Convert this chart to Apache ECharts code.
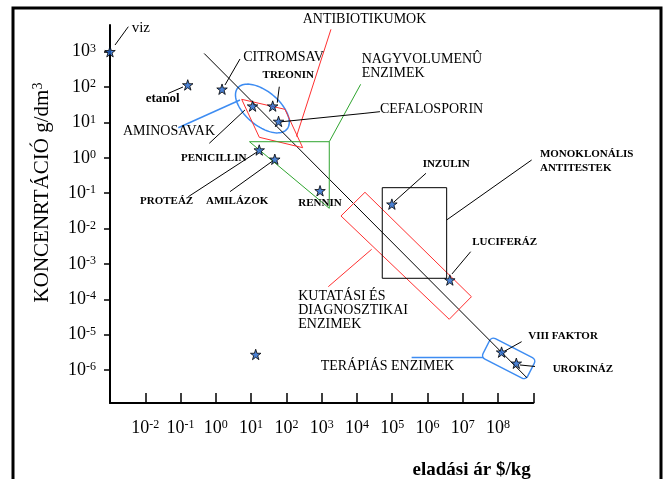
<!DOCTYPE html>
<html><head><meta charset="utf-8">
<script src="https://cdn.jsdelivr.net/npm/echarts@6/dist/echarts.min.js"></script>
<style>html,body{margin:0;padding:0;background:#fff}#c{width:667px;height:479px}</style>
</head><body><div id="c"></div><script>
// ---------------- DATA ----------------
// products: selling price ($/kg) vs. concentration (g/dm3)
const productNames = ['víz','etanol','citromsav','aminosav','treonin','cefalosporin','penicillin','amilázok','rennin','inzulin','luciferáz','VIII faktor','urokináz','(jelöletlen)'];
const pricePerKg   = [0.001, 0.16, 1.5, 11, 41, 60, 17, 47, 900, 98000, 4.3e6, 1.26e8, 3.3e8, 13.5];
const concentration= [1000, 115, 87, 29, 29, 10.7, 1.66, 0.91, 0.117, 0.049, 3.5e-4, 3.2e-6, 1.55e-6, 2.75e-6];

// axis ticks (exponents of 10)
const xTickMarks  = [-2,-1,0,1,2,3,4,5,6,7,8,9];
const xTickLabels = [-2,-1,0,1,2,3,4,5,6,7,8];
const yTickMarks  = [-6,-5,-4,-3,-2,-1,0,1,2,3];
const yTickLabels = [-6,-5,-4,-3,-2,-1,0,1,2,3];
const xAxisTitle = 'eladási ár $/kg';
const yAxisTitle = 'KONCENRTÁCIÓ g/dm';

// annotation geometry, in decades (log10 of price, log10 of concentration)
const trendLine        = [[-0.33,2.95],[8.82,-6.22]];
const antibioticRegion = [[0.733,1.654],[1.960,1.371],[2.462,0.286],[1.232,0.580],[0.733,1.654]];
const antibioticLeader = [[3.264,3.633],[2.286,0.602]];
const bulkEnzymeRegion = [[0.954,0.455],[3.216,0.455],[3.216,-1.428],[0.954,0.455]];
const bulkEnzymeLeader = [[3.216,0.455],[4.106,2.078]];
const aminoEllipseCenter = [1.32,1.394];
const aminoEllipseAxes   = [0.91,0.48];
const aminoEllipseTilt   = 40;
const aminoLeader      = [[-1.065,0.851],[0.685,1.634]];
const researchRegion   = [[4.228,-0.975],[3.548,-1.645],[6.617,-4.566],[7.246,-3.927],[4.228,-0.975]];
const researchLeader   = [[4.418,-2.587],[3.188,-3.644]];
const antibodyRegion   = [[4.718,-0.845],[6.544,-0.845],[6.544,-3.407],[4.718,-3.407],[4.718,-0.845]];
const antibodyLeader   = [[6.544,-1.758],[8.953,-0.062]];
const therapyBoxCenter = [8.302,-5.671];
const therapyBoxSize   = [1.42,0.65];
const therapyBoxTilt   = 27;
const therapyBoxRadius = 0.12;
const therapyLeader    = [[7.578,-5.646],[5.551,-5.646]];
const blackLeaders = [
  [[-2.858,3.189],[-2.481,3.707]],
  [[-1.356,1.818],[-0.931,2.002]],
  [[0.260,2.059],[0.685,2.794]],
  [[1.799,2.010],[1.742,1.558]],
  [[1.790,1.012],[4.228,1.258],[4.653,1.304]],
  [[-0.185,0.410],[0.826,1.352]],
  [[-0.781,-1.100],[1.167,0.164]],
  [[0.401,-0.958],[1.592,-0.104]],
  [[5.957,-0.438],[5.050,-1.249]],
  [[7.224,-2.655],[6.694,-3.285]],
  [[8.669,-5.199],[8.196,-5.462]],
  [[9.565,-5.951],[8.621,-5.858]]
];
// annotation texts, anchors (left, middle) in decades, kind
const annotationTexts = ['ANTIBIOTIKUMOK','CITROMSAV','NAGYVOLUMENÛ\nENZIMEK','TREONIN','CEFALOSPORIN','AMINOSAVAK','PENICILLIN','PROTEÁZ','AMILÁZOK','RENNIN','INZULIN','MONOKLONÁLIS\nANTITESTEK','LUCIFERÁZ','KUTATÁSI ÉS\nDIAGNOSZTIKAI\nENZIMEK','TERÁPIÁS ENZIMEK','VIII FAKTOR','UROKINÁZ','viz','etanol'];
const annotationAnchors = [[2.462,3.916],[0.776,2.842],[4.134,2.576],[1.325,2.341],[4.653,1.380],[-2.632,0.738],[-0.988,-0.005],[-2.150,-1.221],[-0.279,-1.221],[2.337,-1.286],[5.863,-0.175],[9.188,-0.096],[7.269,-2.389],[2.337,-4.317],[2.972,-5.886],[8.857,-5.029],[9.548,-5.979],[-2.385,3.662],[-1.988,1.671]];
const annotationKinds = ['big','big','big','small','big','big','small','small','small','small','small','small','small','big','big','small','small','viz','etanol'];

// ---------------- CHART ----------------
const L = Math.log10;
const FONT = '"Liberation Serif", "Times New Roman", serif';
const RED = '#ff3030', GREEN = '#2fa52f', BLUE = '#3d8cf2';
const STAR = 'path://M50 0L61.8 35.1L97.6 35.1L68.6 56.7L79.4 90.9L50 69.8L20.6 90.9L31.4 56.7L2.4 35.1L38.2 35.1Z';

function lineSeries(pts, color, width) {
  return {type:'line', data: pts, symbol:'none', clip:false, silent:true, animation:false,
    lineStyle:{color:color, width:width||1}, z:2};
}
const richTick = {
  b:{fontSize:18, fontFamily:FONT, color:'#000', lineHeight:18},
  s:{fontSize:12, fontFamily:FONT, color:'#000', lineHeight:12, verticalAlign:'top'}
};
const fmt = v => '{b|10}{s|' + v + '}';

const series = [];
series.push(lineSeries(trendLine, '#000', 1));
series.push(lineSeries(antibioticRegion, RED, 1));
series.push(lineSeries(antibioticLeader, RED, 1));
series.push(lineSeries(bulkEnzymeRegion, GREEN, 1));
series.push(lineSeries(bulkEnzymeLeader, GREEN, 1));
series.push(lineSeries(aminoLeader, BLUE, 1.5));
series.push(lineSeries(researchRegion, RED, 1));
series.push(lineSeries(researchLeader, RED, 1));
series.push(lineSeries(antibodyRegion, '#000', 1));
series.push(lineSeries(antibodyLeader, '#000', 1));
series.push(lineSeries(therapyLeader, BLUE, 1.5));
blackLeaders.forEach(p => series.push(lineSeries(p, '#000', 1)));

series.push({
  type:'custom', clip:false, silent:true, animation:false, z:2,
  data:[[aminoEllipseCenter[0], aminoEllipseCenter[1]]],
  renderItem(params, api) {
    const c = api.coord([api.value(0), api.value(1)]);
    const u = api.size([1,1]);
    const a = aminoEllipseAxes[0]*u[0], b = aminoEllipseAxes[1]*u[1];
    const th = aminoEllipseTilt*Math.PI/180;
    const pts = [];
    for (let i=0;i<96;i++){ const t=i/96*2*Math.PI; const x=a*Math.cos(t), y=b*Math.sin(t);
      pts.push([c[0]+x*Math.cos(th)-y*Math.sin(th), c[1]+x*Math.sin(th)+y*Math.cos(th)]); }
    return {type:'polygon', shape:{points:pts}, style:{fill:'none', stroke:BLUE, lineWidth:1.5}};
  }
});
series.push({
  type:'custom', clip:false, silent:true, animation:false, z:2,
  data:[[therapyBoxCenter[0], therapyBoxCenter[1]]],
  renderItem(params, api) {
    const c = api.coord([api.value(0), api.value(1)]);
    const u = api.size([1,1]);
    const w = therapyBoxSize[0]*u[0], h = therapyBoxSize[1]*u[1];
    return {type:'rect', x:c[0], y:c[1], rotation:-therapyBoxTilt*Math.PI/180,
      shape:{x:-w/2, y:-h/2, width:w, height:h, r:therapyBoxRadius*u[0]},
      style:{fill:'none', stroke:BLUE, lineWidth:1.5}};
  }
});
series.push({
  type:'scatter', clip:false, silent:true, animation:false, z:5,
  symbol:STAR, symbolSize:10.5,
  itemStyle:{color:'#1f63c9', borderColor:'#000', borderWidth:1},
  data: pricePerKg.map((p,i)=>({name:productNames[i], value:[L(p), L(concentration[i])]}))
});
series.push({
  type:'custom', clip:false, silent:true, animation:false, z:6,
  data: annotationAnchors.map((p,i)=>[p[0],p[1],i]),
  renderItem(params, api) {
    const i = api.value(2);
    const c = api.coord([api.value(0), api.value(1)]);
    const k = annotationKinds[i];
    let font, lh;
    if (k==='big') { font = 'normal 14px ' + FONT; lh = 14; }
    else if (k==='small') { font = 'bold 11px ' + FONT; lh = 14.3; }
    else if (k==='viz') { font = 'normal 15px ' + FONT; lh = 15; }
    else { font = 'bold 13px ' + FONT; lh = 13; }
    return {type:'text', x:c[0], y:c[1], style:{text:annotationTexts[i], font:font, fill:'#000',
      align:'left', verticalAlign:'middle', lineHeight:lh}};
  }
});

const option = {
  animation:false,
  backgroundColor:'#fff',
  grid:{left:110, right:133.7, top:25, bottom:76, containLabel:false, outerBoundsMode:'none'},
  xAxis:{type:'value', min:-3, max:9,
    axisLine:{onZero:false, lineStyle:{color:'#000', width:2}},
    axisTick:{inside:true, length:10, lineStyle:{color:'#000', width:1.5}, customValues:xTickMarks},
    axisLabel:{customValues:xTickLabels, formatter:fmt, rich:richTick, margin:16, color:'#000'},
    splitLine:{show:false}},
  yAxis:{type:'value', min:-6.933, max:3.755,
    axisLine:{onZero:false, lineStyle:{color:'#000', width:2}},
    axisTick:{inside:false, length:6, lineStyle:{color:'#000', width:1.5}, customValues:yTickMarks},
    axisLabel:{customValues:yTickLabels, formatter:fmt, rich:richTick, margin:14, color:'#000'},
    splitLine:{show:false}},
  series: series,
  graphic:[
    {type:'rect', shape:{x:13, y:8, width:648, height:520}, style:{fill:'none', stroke:'#000', lineWidth:3}, silent:true},
    {type:'text', x:471.7, y:470, style:{text:xAxisTitle, font:'bold 19px ' + FONT, fill:'#000', align:'center', verticalAlign:'middle'}},
    {type:'text', x:42.5, y:192.5, rotation:Math.PI/2,
      style:{text:'{a|' + yAxisTitle + '}{s|3}', align:'center', verticalAlign:'middle',
        rich:{a:{font:'normal 21px ' + FONT, fill:'#000', lineHeight:22}, s:{font:'normal 14px ' + FONT, fill:'#000', lineHeight:14, verticalAlign:'top'}}}}
  ]
};
const chart = echarts.init(document.getElementById('c'), null, {renderer:'canvas'});
chart.setOption(option);
</script></body></html>
